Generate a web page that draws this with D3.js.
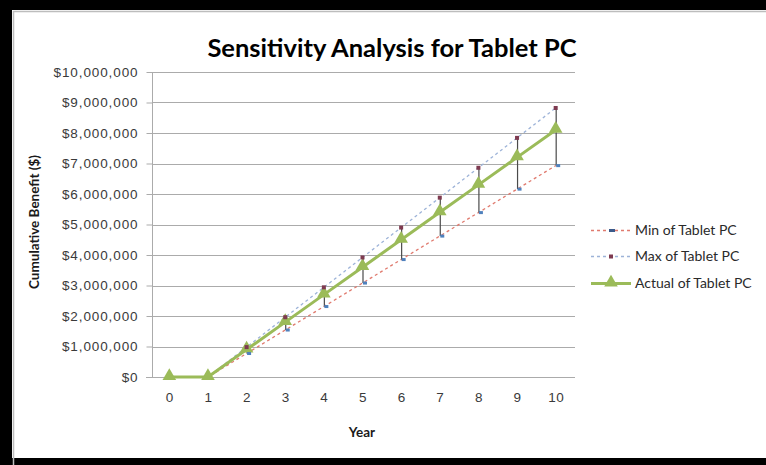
<!DOCTYPE html>
<html>
<head>
<meta charset="utf-8">
<script src="https://cdn.jsdelivr.net/npm/d3@7/dist/d3.min.js"></script>
<style>
  html, body { margin: 0; padding: 0; background: #fff; }
  svg { display: block; font-family: Lato, "Open Sans", sans-serif; }
</style>
</head>
<body>
<svg id="chart" width="766" height="465"></svg>
<script>
// Years on the category axis
const years = [0, 1, 2, 3, 4, 5, 6, 7, 8, 9, 10];
// Cumulative benefit scenarios ($)
const minValues    = [0, 0, 770000, 1540000, 2310000, 3080000, 3850000, 4620000, 5390000, 6160000, 6930000];
const maxValues    = [0, 0, 980000, 1960000, 2940000, 3920000, 4900000, 5880000, 6860000, 7840000, 8820000];
const actualValues = [0, 0, 900000, 1800000, 2700000, 3600000, 4500000, 5400000, 6300000, 7200000, 8100000];
const yTicks = [0, 1000000, 2000000, 3000000, 4000000, 5000000, 6000000, 7000000, 8000000, 9000000, 10000000];
const seriesNames = ["Min of Tablet PC", "Max of Tablet PC", "Actual of Tablet PC"];

const svg = d3.select("#chart");

// outer frame
svg.append("rect").attr("x", 0).attr("y", 0).attr("width", 766).attr("height", 465).attr("fill", "#fff");
svg.append("rect").attr("x", 0).attr("y", 0).attr("width", 766).attr("height", 10).attr("fill", "#000");
svg.append("rect").attr("x", 0).attr("y", 0).attr("width", 12).attr("height", 465).attr("fill", "#000");
svg.append("rect").attr("x", 0).attr("y", 458).attr("width", 766).attr("height", 7).attr("fill", "#000");
svg.append("path").attr("d", "M13.5,465V11.5H766").attr("fill", "none").attr("stroke", "#bdbdbd").attr("stroke-width", 1.5);

const x = d3.scalePoint().domain(years).range([150, 575]).padding(0.5);
const y = d3.scaleLinear().domain([0, 10000000]).range([377, 72]);

// horizontal gridlines
svg.append("g").selectAll("line").data(yTicks.slice(1)).join("line")
  .attr("x1", 152).attr("x2", 575)
  .attr("y1", d => Math.round(y(d)) + 0.5).attr("y2", d => Math.round(y(d)) + 0.5)
  .attr("stroke", "#ababab").attr("stroke-width", 1.2);

// y axis
const yAxis = svg.append("g").attr("transform", "translate(152.5,0)")
  .call(d3.axisLeft(y).tickValues(yTicks).tickSize(6).tickPadding(8)
    .tickFormat(d => "$" + d3.format(",")(d)));
yAxis.select(".domain").attr("stroke", "#ababab").attr("d", "M0," + y(10000000) + "V" + y(0));
yAxis.selectAll(".tick line").attr("stroke", "#ababab");
yAxis.selectAll("text").attr("font-size", 13.5).attr("letter-spacing", 0.9).attr("fill", "#3a3a3a");

// x axis
const xAxis = svg.append("g").attr("transform", "translate(0," + (y(0) + 0.5) + ")")
  .call(d3.axisBottom(x).tickSize(0).tickPadding(15));
xAxis.select(".domain").attr("stroke", "#ababab").attr("stroke-width", 1.2).attr("d", "M146,0H575");
xAxis.selectAll("text").attr("font-size", 13.5).attr("letter-spacing", 0.5).attr("fill", "#3a3a3a");

// dashed min / max lines
const line = vals => d3.line().x((d, i) => x(years[i])).y(d => y(d))(vals);
svg.append("path").attr("d", line(maxValues)).attr("fill", "none")
  .attr("stroke", "#9db3d8").attr("stroke-width", 1.3).attr("stroke-dasharray", "3,3");
svg.append("path").attr("d", line(minValues)).attr("fill", "none")
  .attr("stroke", "#e07a6e").attr("stroke-width", 1.3).attr("stroke-dasharray", "3,3");

// high-low lines
svg.append("g").selectAll("line").data(years).join("line")
  .attr("x1", d => x(d) + 0.5).attr("x2", d => x(d) + 0.5)
  .attr("y1", (d, i) => y(maxValues[i])).attr("y2", (d, i) => y(minValues[i]))
  .attr("stroke", "#4a4a4a").attr("stroke-width", 1.2);

// actual line with triangle markers
svg.append("path").attr("d", line(actualValues)).attr("fill", "none")
  .attr("stroke", "#9bbb59").attr("stroke-width", 3);
const tri = d3.symbol().type(d3.symbolTriangle).size(80);
svg.append("g").selectAll("path").data(years).join("path")
  .attr("d", tri)
  .attr("transform", (d, i) => "translate(" + x(d) + "," + (y(actualValues[i]) - 1) + ")")
  .attr("fill", "#9bbb59");

// max markers
svg.append("g").selectAll("rect").data(years.slice(2)).join("rect")
  .attr("x", d => x(d) - 2).attr("y", d => y(maxValues[years.indexOf(d)]) - 2)
  .attr("width", 4).attr("height", 4).attr("fill", "#7e3a50");
// min markers
svg.append("g").selectAll("rect").data(years.slice(2)).join("rect")
  .attr("x", d => x(d) + 0.5).attr("y", d => y(minValues[years.indexOf(d)]) - 1.5)
  .attr("width", 4).attr("height", 3).attr("fill", "#4f81bd");

// title
svg.append("text").attr("x", 392).attr("y", 57).attr("text-anchor", "middle")
  .attr("font-size", 25.5).attr("font-weight", "bold").attr("fill", "#000")
  .text("Sensitivity Analysis for Tablet PC");

// axis titles
svg.append("text").attr("transform", "translate(39,222) rotate(-90)").attr("text-anchor", "middle")
  .attr("font-size", 13.5).attr("font-weight", "bold").attr("fill", "#1a1a1a")
  .text("Cumulative Benefit ($)");
svg.append("text").attr("x", 362).attr("y", 437).attr("text-anchor", "middle")
  .attr("font-size", 13.5).attr("font-weight", "bold").attr("fill", "#1a1a1a")
  .text("Year");

// legend
const legend = svg.append("g");
const legY = [230, 256, 283];
const legColors = ["#e07a6e", "#9db3d8", "#9bbb59"];
seriesNames.forEach((name, i) => {
  const g = legend.append("g").attr("transform", "translate(0," + legY[i] + ")");
  if (i < 2) {
    g.append("line").attr("x1", 591).attr("x2", 631).attr("y1", 0.5).attr("y2", 0.5)
      .attr("stroke", legColors[i]).attr("stroke-width", 1.3).attr("stroke-dasharray", "3,3");
    if (i === 0) g.append("rect").attr("x", 609).attr("y", -1).attr("width", 6).attr("height", 3).attr("fill", "#3b5a8a");
    else g.append("rect").attr("x", 609).attr("y", -1.5).attr("width", 4).attr("height", 4).attr("fill", "#7e3a50");
  } else {
    g.append("line").attr("x1", 591).attr("x2", 631).attr("y1", 0.5).attr("y2", 0.5)
      .attr("stroke", legColors[i]).attr("stroke-width", 3);
    g.append("path").attr("d", tri).attr("transform", "translate(611,-0.5)").attr("fill", "#9bbb59");
  }
  g.append("text").attr("x", 635).attr("y", 5).attr("font-size", 14).attr("fill", "#2a2a2a").text(name);
});
</script>
</body>
</html>
